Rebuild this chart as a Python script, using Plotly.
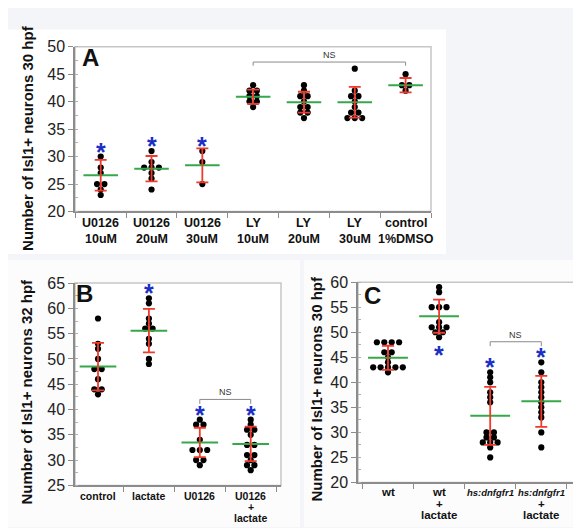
import plotly.graph_objects as go
from collections import Counter

W, H = 581, 528
FONT = "Liberation Sans, Arial, Helvetica, sans-serif"

# ---------------- data ----------------
A_labels = ["U0126<br>10uM", "U0126<br>20uM", "U0126<br>30uM", "LY<br>10uM",
            "LY<br>20uM", "LY<br>30uM", "control<br>1%DMSO"]
A_points = [
    [30, 28, 27, 25, 25, 24, 23],
    [31, 29, 28, 28, 28, 27, 26, 24],
    [31, 29, 25],
    [43, 42, 42, 41, 41, 40, 40, 39],
    [43, 42, 41, 41, 40, 39, 39, 38, 38, 37],
    [46, 42, 41, 41, 40, 39, 38, 38, 37, 37, 37],
    [45, 43, 43, 42],
]
A_mean = [26.6, 27.8, 28.4, 40.9, 39.9, 39.9, 43.0]
A_sd = [2.8, 2.3, 3.1, 1.3, 1.9, 2.8, 1.3]
A_sig = ["up", "up", "up", "", "", "", ""]
A_ns = (3, 6, 47.2)

B_labels = ["control", "lactate", "U0126", "U0126<br>+<br>lactate"]
B_points = [
    [58, 53, 52, 50, 48, 48, 46, 44, 44, 43],
    [62, 61, 58, 57, 56, 56, 54, 53, 50, 49],
    [38, 37, 37, 34, 32, 32, 32, 30, 30, 29],
    [38, 37, 36, 36, 35, 33, 33, 31, 31, 30, 29, 29, 28],
]
B_mean = [48.5, 55.6, 33.5, 33.2]
B_sd = [4.7, 4.3, 2.9, 3.4]
B_sig = ["", "up", "up", "up"]
B_ns = (2, 3, 42.0)

C_labels = ["wt", "wt<br>+<br>lactate", "<i>hs:dnfgfr1</i>", "<i>hs:dnfgfr1</i><br>+<br>lactate"]
C_points = [
    [48, 48, 48, 48, 46, 46, 45, 44, 43, 43, 43, 43, 43, 42],
    [59, 58, 55, 55, 55, 52, 51, 51, 51, 50, 50, 49],
    [42, 41, 40, 38, 37, 36, 30, 30, 29, 29, 28, 28, 28, 27, 25],
    [44, 42, 40, 39, 38, 37, 36, 35, 34, 33, 30, 27],
]
C_mean = [44.9, 53.2, 33.3, 36.2]
C_sd = [2.4, 3.3, 5.8, 5.1]
C_sig = ["", "down", "up", "up"]
C_ns = (2, 3, 48.1)

YTITLE_A = "Number of Isl1+ neurons 30 hpf"
YTITLE_B = "Number of Isl1+ neurons 32 hpf"
YTITLE_C = "Number of Isl1+ neurons 30 hpf"

# ---------------- layout geometry (pixels) ----------------
panels = [
    dict(name="A", xa="x", ya="y", labels=A_labels, points=A_points, mean=A_mean, sd=A_sd,
         sig=A_sig, ns=A_ns, yrange=[20, 50], xrange=[-0.506, 6.5],
         box=(67, 423, 31.7, 202), lab_y=213.5, lab_gap=16.5, lab_size=12.5,
         ytitle=YTITLE_A, ytitle_pos=(20, 126), letter_pos=(82, 43), hw=0.34),
    dict(name="B", xa="x2", ya="y2", labels=B_labels, points=B_points, mean=B_mean, sd=B_sd,
         sig=B_sig, ns=B_ns, yrange=[25, 65], xrange=[-0.452, 3.595],
         box=(67, 273, 276, 485), lab_y=495.5, lab_gap=11.5, lab_size=10.5,
         ytitle=YTITLE_B, ytitle_pos=(19, 388), letter_pos=(76, 287), hw=0.36),
    dict(name="C", xa="x3", ya="y3", labels=C_labels, points=C_points, mean=C_mean, sd=C_sd,
         sig=C_sig, ns=C_ns, yrange=[20, 60], xrange=[-0.587, 3.64],
         box=(350, 566, 275, 482), lab_y=492, lab_gap=12, lab_size=11.5,
         ytitle=YTITLE_C, ytitle_pos=(309, 385), letter_pos=(364, 289), hw=0.39),
]

BLACK = "#000000"
GREEN = "#36a84a"
RED = "#f03a2c"
BLUE = "#1c2fc4"
AXIS = "#8c8c8c"
FRAME = "#c6c6c6"


def spread(vals, step):
    counts = Counter(vals)
    seen = Counter()
    out = []
    for v in vals:
        n = counts[v]
        k = seen[v]
        seen[v] += 1
        out.append((k - (n - 1) / 2) * step)
    return out


def px(x):
    return x / W


def py(y):
    return 1 - y / H


fig = go.Figure()
shapes = []
annotations = []
layout_axes = {}

# panel backgrounds
shapes.append(dict(type="rect", xref="paper", yref="paper", x0=0, x1=px(438), y0=py(246), y1=py(14),
                   fillcolor="white", line=dict(width=0), layer="below"))
shapes.append(dict(type="rect", xref="paper", yref="paper", x0=0, x1=px(292), y0=0, y1=py(252),
                   fillcolor="#fcfcfd", line=dict(width=0), layer="below"))
shapes.append(dict(type="rect", xref="paper", yref="paper", x0=px(296), x1=1, y0=0, y1=py(252),
                   fillcolor="#fcfcfd", line=dict(width=0), layer="below"))

for i, p in enumerate(panels):
    xa, ya = p["xa"], p["ya"]
    x0, x1, ytop, ybot = p["box"]
    n = len(p["labels"])
    # frame
    shapes.append(dict(type="rect", xref="paper", yref="paper", x0=px(x0), x1=px(x1),
                       y0=py(ybot), y1=py(ytop), fillcolor="white",
                       line=dict(color=FRAME, width=1.5), layer="below"))
    # dots
    xs, ys = [], []
    for gi, vals in enumerate(p["points"]):
        offs = spread(vals, 0.145)
        xs += [gi + o for o in offs]
        ys += vals
    fig.add_trace(go.Scatter(x=xs, y=ys, mode="markers", xaxis=xa, yaxis=ya,
                             marker=dict(color=BLACK, size=6.2), hoverinfo="skip"))
    # mean lines
    mx, my = [], []
    for gi, m in enumerate(p["mean"]):
        mx += [gi - p["hw"], gi + p["hw"], None]
        my += [m, m, None]
    fig.add_trace(go.Scatter(x=mx, y=my, mode="lines", xaxis=xa, yaxis=ya,
                             line=dict(color=GREEN, width=2), hoverinfo="skip"))
    # SD bars
    fig.add_trace(go.Scatter(x=list(range(n)), y=p["mean"], mode="markers", xaxis=xa, yaxis=ya,
                             marker=dict(size=1, opacity=0),
                             error_y=dict(type="data", array=p["sd"], visible=True, color=RED,
                                          thickness=1.8, width=6), hoverinfo="skip"))
    # significance stars
    for gi, s in enumerate(p["sig"]):
        if not s:
            continue
        vals = p["points"][gi]
        yv = max(vals) if s == "up" else min(vals)
        annotations.append(dict(x=gi, y=yv, xref=xa, yref=ya, text="<b>*</b>", showarrow=False,
                                xanchor="center", yanchor="middle",
                                yshift=5 if s == "up" else -18,
                                font=dict(family=FONT, size=25, color=BLUE)))
    # NS bracket
    g0, g1, yb = p["ns"]
    drop = (p["yrange"][1] - p["yrange"][0]) * 0.022
    shapes.append(dict(type="path", xref=xa, yref=ya,
                       path=f"M {g0},{yb - drop} L {g0},{yb} L {g1},{yb} L {g1},{yb - drop}",
                       line=dict(color="#8a8a8a", width=1)))
    annotations.append(dict(x=(g0 + g1) / 2, y=yb, xref=xa, yref=ya, text="NS", showarrow=False,
                            yanchor="bottom", yshift=0,
                            font=dict(family=FONT, size=9, color="#333333")))
    # x labels as annotations
    for gi, lab in enumerate(p["labels"]):
        for li, line in enumerate(lab.split("<br>")):
            size = p["lab_size"]
            if "<i>" in line:
                size = 9.5
            annotations.append(dict(x=gi, y=py(p["lab_y"] + li * p["lab_gap"]), xref=xa, yref="paper",
                                    text=f"<b>{line}</b>", showarrow=False, borderpad=0,
                                    xanchor="center", yanchor="middle",
                                    font=dict(family=FONT, size=size, color="#111111")))
    # y title
    tx, ty = p["ytitle_pos"]
    annotations.append(dict(x=px(tx), y=py(ty), xref="paper", yref="paper", text=f"<b>{p['ytitle']}</b>",
                            textangle=-90, showarrow=False, xanchor="center", yanchor="middle",
                            font=dict(family=FONT, size=15, color="#111111")))
    # panel letter
    lx, ly = p["letter_pos"]
    annotations.append(dict(x=px(lx), y=py(ly), xref="paper", yref="paper", text=f"<b>{p['name']}</b>",
                            showarrow=False, xanchor="center", yanchor="middle",
                            font=dict(family=FONT, size=24, color="#111111")))

    xkey = "xaxis" if xa == "x" else "xaxis" + xa[1:]
    ykey = "yaxis" if ya == "y" else "yaxis" + ya[1:]
    bounds = [k - 0.5 for k in range(n + 1)]
    layout_axes[xkey] = dict(domain=[px(x0), px(x1)], range=p["xrange"], anchor=ya,
                             showgrid=False, zeroline=False, showticklabels=False,
                             tickmode="array", tickvals=bounds, ticks="outside", ticklen=5,
                             tickcolor=AXIS, tickwidth=1.2, showline=True, linecolor=AXIS,
                             linewidth=1.5, fixedrange=True)
    lo, hi = p["yrange"]
    layout_axes[ykey] = dict(domain=[py(ybot), py(ytop)], range=[lo, hi], anchor=xa,
                             showgrid=False, zeroline=False, tickmode="linear", tick0=lo, dtick=5,
                             ticks="outside", ticklen=5, tickcolor=AXIS, tickwidth=1.2,
                             tickfont=dict(family=FONT, size=16, color="#222222"),
                             showline=True, linecolor=AXIS, linewidth=1.5, fixedrange=True,
                             minor=dict(ticks="inside", ticklen=3, dtick=2.5, tick0=lo,
                                        tickcolor="#b0b0b0", tickwidth=1))

fig.update_layout(
    width=W, height=H, margin=dict(l=0, r=0, t=0, b=0),
    paper_bgcolor="#f3f5f8", plot_bgcolor="rgba(0,0,0,0)",
    showlegend=False, hovermode=False,
    shapes=shapes, annotations=annotations,
    font=dict(family=FONT),
    **layout_axes,
)

fig.write_html("out.html", config={"displayModeBar": False})
